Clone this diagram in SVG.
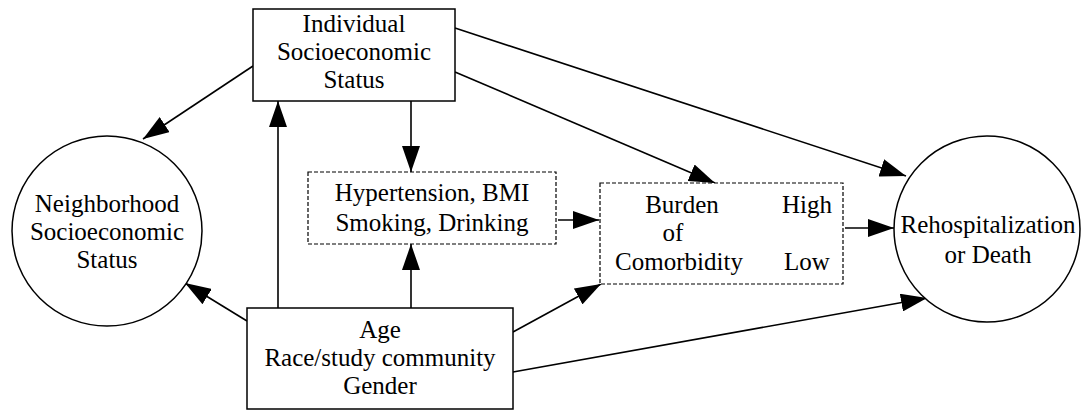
<svg xmlns="http://www.w3.org/2000/svg" width="1081" height="410" viewBox="0 0 1081 410">
  <defs>
    <marker id="ah" markerUnits="userSpaceOnUse" markerWidth="26" markerHeight="18" refX="26" refY="9" orient="auto">
      <path d="M0,0 L26,9 L0,18 Z" fill="#000"/>
    </marker>
    <style>
      .box{fill:#fff;stroke:#000;stroke-width:1.5}
      .dash{fill:#fff;stroke:#000;stroke-width:1.2;stroke-dasharray:4,2}
      .lbl{font-family:"Liberation Serif","Times New Roman",serif;font-size:25px;fill:#000;text-anchor:middle}
      .edge{stroke:#000;stroke-width:1.6;fill:none;marker-end:url(#ah)}
    </style>
  </defs>
  <rect width="1081" height="410" fill="#fff"/>
  <g id="connectors">
    <line class="edge" x1="253" y1="66" x2="143" y2="139"/>
    <line class="edge" x1="247" y1="321" x2="185" y2="283"/>
    <line class="edge" x1="278" y1="308" x2="278" y2="101"/>
    <line class="edge" x1="411" y1="101" x2="411" y2="172"/>
    <line class="edge" x1="411" y1="308" x2="411" y2="244"/>
    <line class="edge" x1="455" y1="72" x2="715" y2="183"/>
    <line class="edge" x1="455" y1="28" x2="906" y2="176"/>
    <line class="edge" x1="558" y1="220" x2="599" y2="220"/>
    <line class="edge" x1="845" y1="228" x2="894" y2="228"/>
    <line class="edge" x1="513" y1="332" x2="601" y2="284"/>
    <line class="edge" x1="513" y1="372" x2="927" y2="298"/>
  </g>
  <g id="individual-ses">
    <rect class="box" x="253" y="9" width="202" height="92"/>
    <text class="lbl" x="354" y="32">Individual</text>
    <text class="lbl" x="354" y="60">Socioeconomic</text>
    <text class="lbl" x="354" y="88">Status</text>
  </g>
  <g id="neighborhood-ses">
    <circle class="box" cx="107" cy="231" r="95"/>
    <text class="lbl" x="107" y="212">Neighborhood</text>
    <text class="lbl" x="107" y="240">Socioeconomic</text>
    <text class="lbl" x="107" y="268">Status</text>
  </g>
  <g id="risk-factors">
    <rect class="dash" x="308" y="172" width="248" height="72"/>
    <text class="lbl" x="432" y="201">Hypertension, BMI</text>
    <text class="lbl" x="432" y="231">Smoking, Drinking</text>
  </g>
  <g id="burden">
    <rect class="dash" x="600" y="183" width="243" height="101"/>
    <text class="lbl" x="682" y="213">Burden</text>
    <text class="lbl" x="673" y="241">of</text>
    <text class="lbl" x="679" y="270">Comorbidity</text>
    <text class="lbl" x="807" y="213">High</text>
    <text class="lbl" x="807" y="270">Low</text>
  </g>
  <g id="outcome">
    <circle class="box" cx="987" cy="229" r="93"/>
    <text class="lbl" x="988" y="233">Rehospitalization</text>
    <text class="lbl" x="988" y="263">or Death</text>
  </g>
  <g id="demographics">
    <rect class="box" x="247" y="308" width="266" height="101"/>
    <text class="lbl" x="380" y="338">Age</text>
    <text class="lbl" x="380" y="366">Race/study community</text>
    <text class="lbl" x="380" y="394">Gender</text>
  </g>
</svg>
